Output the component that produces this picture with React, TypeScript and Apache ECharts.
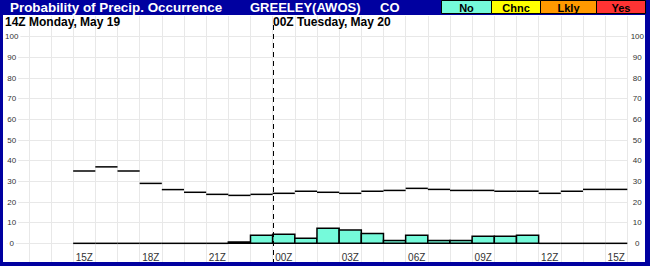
import React, { useEffect, useRef } from "react";
import * as echarts from "echarts";

const hours = [
  "12Z", "13Z", "14Z", "15Z", "16Z", "17Z", "18Z", "19Z", "20Z", "21Z", "22Z", "23Z",
  "00Z", "01Z", "02Z", "03Z", "04Z", "05Z", "06Z", "07Z", "08Z", "09Z", "10Z", "11Z",
  "12Z", "13Z", "14Z", "15Z",
];
// Probability line (one flat segment per hour), null = no data
const popValues = [
  null, null, null, 35, 37, 35, 29, 26, 24.7, 23.7, 23.2, 23.7,
  24.2, 25.2, 24.7, 24.2, 25.2, 25.6, 26.6, 26.1, 25.6, 25.6, 25.2, 25.2,
  24.2, 25.2, 26.1, 26.1,
];
// "No" category bars
const noValues = [
  null, null, null, 0, 0, 0, 0, 0, 0, 0, 0.6, 3.9,
  4.4, 2.4, 7.3, 6.4, 4.8, 1.4, 3.9, 1.4, 1.4, 3.4, 3.4, 3.9,
  0, 0, 0, 0,
];
const yTicks = [0, 10, 20, 30, 40, 50, 60, 70, 80, 90, 100];
const legendItems = ["No", "Chnc", "Lkly", "Yes"];
const legendColors = ["#75FADA", "#FFFF00", "#FF9900", "#FF3333"];
const dividerHour = "00Z";

const NAVY = "#0000A0";
const FONT = "'Liberation Sans', Arial, sans-serif";

export default function App() {
  const ref = useRef<HTMLDivElement>(null);
  useEffect(() => {
    if (!ref.current) return;
    const chart = echarts.init(ref.current, null, { renderer: "svg" });
    const divIdx = hours.indexOf(dividerHour);

    const legendX = [441, 491, 540, 596, 645];
    const legendEls: any[] = [];
    legendItems.forEach((name, i) => {
      legendEls.push({
        type: "rect",
        z: 101,
        shape: { x: legendX[i] + 0.5, y: 0.5, width: legendX[i + 1] - legendX[i], height: 13 },
        style: { fill: legendColors[i], stroke: "#000", lineWidth: 1 },
      });
      legendEls.push({
        type: "text",
        z: 102,
        x: (legendX[i] + legendX[i + 1]) / 2 + 0.5,
        y: 7.5,
        style: {
          text: name, fill: "#000", font: `bold 11px ${FONT}`,
          align: "center", verticalAlign: "middle",
        },
      });
    });

    chart.setOption({
      animation: false,
      backgroundColor: "#fff",
      grid: { left: 4, right: 22.7, top: 16, bottom: 2, containLabel: false },
      xAxis: {
        type: "category",
        data: hours,
        boundaryGap: true,
        axisLine: { show: false },
        axisTick: { show: false, interval: 0 },
        axisLabel: {
          interval: (i: number) => i > 0 && i % 3 === 0,
          inside: true,
          margin: 2,
          fontSize: 10,
          color: "#333",
          fontFamily: FONT,
        },
        splitLine: {
          show: true, interval: 0, showMinLine: false,
          lineStyle: { color: "#E8E8E8", width: 1 },
        },
      },
      yAxis: [
        {
          type: "value", min: -10, max: 110, interval: 10, position: "left",
          axisLine: { show: false }, axisTick: { show: false },
          axisLabel: {
            inside: true, margin: 5, align: "center",
            fontSize: 8, color: "#333", fontFamily: FONT,
            backgroundColor: "#fff", padding: [1, 2],
            formatter: (v: number) => (yTicks.includes(v) ? String(v) : ""),
          },
          splitLine: {
            show: true, showMaxLine: false, showMinLine: false,
            lineStyle: { color: "#E8E8E8", width: 1 },
          },
        },
        {
          type: "value", min: -10, max: 110, interval: 10, position: "right",
          axisLine: { show: false }, axisTick: { show: false },
          axisLabel: {
            margin: 10, align: "center",
            fontSize: 8, color: "#333", fontFamily: FONT,
            formatter: (v: number) => (yTicks.includes(v) ? String(v) : ""),
          },
          splitLine: { show: false },
        },
      ],
      series: [
        {
          type: "custom",
          name: "No",
          z: 3,
          data: noValues.map((v, i) => [i, v]).filter((d) => d[1] !== null),
          renderItem: (params: any, api: any) => {
            const idx = api.value(0);
            const v = api.value(1);
            const c0 = api.coord([idx, 0]);
            const c1 = api.coord([idx, v]);
            const w = api.size([1, 0])[0];
            if (v <= 0) {
              return {
                type: "line",
                shape: { x1: c0[0] - w / 2, y1: c0[1], x2: c0[0] + w / 2, y2: c0[1] },
                style: { stroke: "#000", lineWidth: 1.5 },
              };
            }
            return {
              type: "rect",
              shape: { x: c0[0] - w / 2, y: c1[1], width: w, height: c0[1] - c1[1] },
              style: { fill: legendColors[0], stroke: "#000", lineWidth: 1.5 },
            };
          },
        },
        {
          type: "custom",
          name: "PoP",
          z: 4,
          data: popValues.map((v, i) => [i, v]).filter((d) => d[1] !== null),
          renderItem: (params: any, api: any) => {
            const idx = api.value(0);
            const v = api.value(1);
            const c = api.coord([idx, v]);
            const w = api.size([1, 0])[0];
            return {
              type: "line",
              shape: { x1: c[0] - w / 2, y1: c[1], x2: c[0] + w / 2, y2: c[1] },
              style: { stroke: "#000", lineWidth: 1.5 },
            };
          },
        },
        {
          type: "custom",
          name: "divider",
          z: 5,
          data: [[divIdx, 0]],
          renderItem: (params: any, api: any) => {
            const c = api.coord([api.value(0), 0]);
            const w = api.size([1, 0])[0];
            const cs = params.coordSys;
            const x = Math.round(c[0] - w / 2) + 0.5;
            return {
              type: "line",
              shape: { x1: x, y1: cs.y + 9, x2: x, y2: cs.y + cs.height },
              style: { stroke: "#000", lineWidth: 1, lineDash: [5, 4] },
            };
          },
        },
      ],
      graphic: {
        elements: [
          { type: "rect", z: 100, shape: { x: 0, y: 0, width: 650, height: 15 }, style: { fill: NAVY } },
          { type: "rect", z: 100, shape: { x: 0, y: 0, width: 3, height: 266 }, style: { fill: NAVY } },
          { type: "rect", z: 100, shape: { x: 645, y: 0, width: 5, height: 266 }, style: { fill: NAVY } },
          { type: "rect", z: 100, shape: { x: 0, y: 262, width: 650, height: 4 }, style: { fill: NAVY } },
          {
            type: "text", z: 101, x: 10, y: 7.5,
            style: { text: "Probability of Precip. Occurrence", fill: "#fff", font: `bold 13.4px ${FONT}`, verticalAlign: "middle" },
          },
          {
            type: "text", z: 101, x: 250, y: 7.5,
            style: { text: "GREELEY(AWOS)", fill: "#fff", font: `bold 13px ${FONT}`, verticalAlign: "middle" },
          },
          {
            type: "text", z: 101, x: 380, y: 7.5,
            style: { text: "CO", fill: "#fff", font: `bold 13px ${FONT}`, verticalAlign: "middle" },
          },
          ...legendEls,
          {
            type: "text", z: 101, x: 5, y: 21.5,
            style: { text: "14Z Monday, May 19", fill: "#000", font: `bold 12px ${FONT}`, verticalAlign: "middle" },
          },
          {
            type: "text", z: 101, x: 273, y: 21.5,
            style: { text: "00Z Tuesday, May 20", fill: "#000", font: `bold 12px ${FONT}`, verticalAlign: "middle" },
          },
        ],
      },
    });
    return () => chart.dispose();
  }, []);
  return (
    <div
      ref={ref}
      style={{ position: "fixed", left: 0, top: 0, width: 650, height: 266 }}
    />
  );
}
